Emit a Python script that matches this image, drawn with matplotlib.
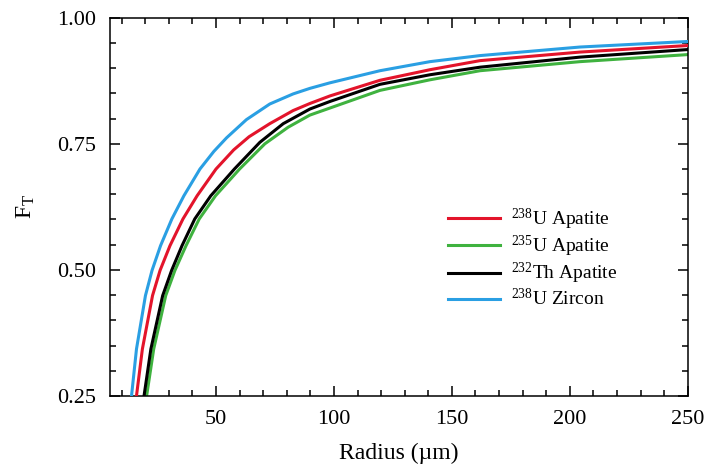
import matplotlib
matplotlib.use("Agg")
import matplotlib.pyplot as plt
from matplotlib.ticker import MultipleLocator, FormatStrFormatter

plt.rcParams['font.family'] = ['Liberation Serif', 'DejaVu Serif']
plt.rcParams['mathtext.fontset'] = 'custom'
plt.rcParams['mathtext.rm'] = 'Liberation Serif'
plt.rcParams['mathtext.it'] = 'Liberation Serif:italic'

# Values (radius in um, F_T)
r_u238_zircon = [14.2, 16.3, 20.1, 22.9, 26.5, 31.3, 36.4, 43.2, 49.1, 54.5, 62.9,
                 72.8, 82.7, 89.8, 98.3, 119.5, 140.7, 161.9, 204.3, 250]
ft_u238_zircon = [0.25, 0.343, 0.449, 0.499, 0.548, 0.601, 0.647, 0.700, 0.735, 0.762, 0.798,
                  0.829, 0.849, 0.860, 0.871, 0.895, 0.913, 0.925, 0.942, 0.953]

r_u238_apatite = [16.3, 18.8, 23.1, 26.3, 30.5, 36.0, 42.0, 50.0, 57.5, 64.0,
                  72.8, 82.7, 89.8, 98.3, 119.5, 140.7, 161.9, 204.3, 250]
ft_u238_apatite = [0.25, 0.343, 0.449, 0.499, 0.548, 0.601, 0.647, 0.700, 0.738, 0.764,
                   0.790, 0.816, 0.830, 0.845, 0.876, 0.897, 0.915, 0.932, 0.945]

r_u235_apatite = [20.6, 23.6, 28.7, 32.6, 37.3, 42.9, 49.8, 60.0, 70.7,
                  80.6, 89.8, 98.3, 119.5, 140.7, 161.9, 204.3, 250]
ft_u235_apatite = [0.25, 0.343, 0.449, 0.499, 0.548, 0.601, 0.647, 0.700, 0.750,
                   0.783, 0.807, 0.821, 0.856, 0.877, 0.895, 0.913, 0.927]

r_th232_apatite = [19.5, 22.4, 27.4, 31.2, 35.6, 41.0, 47.8, 57.8, 68.6,
                   78.5, 89.8, 98.3, 119.5, 140.7, 161.9, 204.3, 250]
ft_th232_apatite = [0.25, 0.343, 0.449, 0.499, 0.548, 0.601, 0.647, 0.700, 0.753,
                    0.790, 0.819, 0.834, 0.868, 0.887, 0.902, 0.922, 0.937]

fig = plt.figure(figsize=(7.04, 4.68), dpi=100)
ax = fig.add_axes([0.156, 0.154, 0.821, 0.808])

lw = 2.2
ax.plot(r_u238_apatite, ft_u238_apatite, color='#e3142b', lw=lw, zorder=3, label=r'$^{238}$U Apatite')
ax.plot(r_u235_apatite, ft_u235_apatite, color='#3fb23f', lw=lw, zorder=2, label=r'$^{235}$U Apatite')
ax.plot(r_th232_apatite, ft_th232_apatite, color='black', lw=lw, zorder=3, label=r'$^{232}$Th Apatite')
ax.plot(r_u238_zircon, ft_u238_zircon, color='#2a9fe3', lw=lw, zorder=3, label=r'$^{238}$U Zircon')

ax.set_xlim(5, 250)
ax.set_ylim(0.25, 1.0)
ax.xaxis.set_major_locator(MultipleLocator(50))
ax.xaxis.set_minor_locator(MultipleLocator(10))
ax.yaxis.set_major_locator(MultipleLocator(0.25))
ax.yaxis.set_minor_locator(MultipleLocator(0.05))
ax.yaxis.set_major_formatter(FormatStrFormatter('%.2f'))
ax.tick_params(which='both', direction='in', top=True, right=True, labelsize=16, width=1.1)
ax.tick_params(which='major', length=7, pad=10)
ax.tick_params(which='minor', length=4)
for s in ax.spines.values():
    s.set_linewidth(1.1)

ax.set_xlabel('Radius (\u00b5m)', fontsize=17, labelpad=10)
ax.set_ylabel(r'F$_\mathrm{T}$', fontsize=17, labelpad=14)

ax.legend(loc='upper left', bbox_to_anchor=(0.585, 0.50), frameon=False, fontsize=14,
          handlelength=2.7, handletextpad=0.55, labelspacing=0.1,
          borderpad=0, borderaxespad=0)

fig.savefig('out.png', dpi=100)
